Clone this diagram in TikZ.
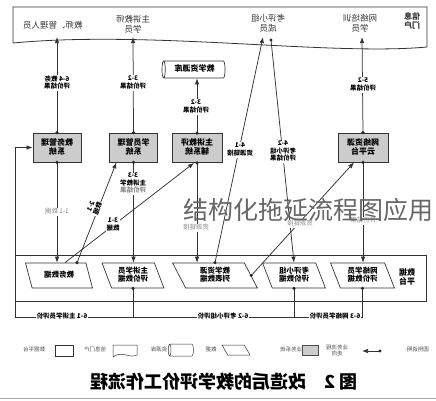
\documentclass[tikz,border=0pt]{standalone}
\usepackage{fontspec}
\setmainfont{Noto Sans CJK SC}
\usepackage{graphicx}
\usetikzlibrary{arrows.meta,shapes.geometric,calc}
\newcommand\mirtext[1]{\reflectbox{\renewcommand\arraystretch{0.85}\begin{tabular}{@{}c@{}}#1\end{tabular}}}
\begin{document}
\begin{tikzpicture}[x=1pt,y=-1pt,
  ln/.style={draw=black!80,line width=0.75pt},
  flow/.style={ln,-{Latex[length=6pt,width=4.5pt]}},
  sysbox/.style={draw=black!80,line width=0.8pt,fill=black!20,minimum width=48pt,minimum height=29pt,inner sep=0pt,font=\fontsize{8}{9.5}\selectfont\bfseries},
  para/.style={draw=black!80,line width=0.7pt,trapezium,trapezium left angle=110,trapezium right angle=70,trapezium stretches=true,minimum height=25pt,inner sep=1pt,font=\fontsize{7.5}{9}\selectfont\bfseries},
  lbl/.style={fill=white,inner sep=0.6pt,font=\fontsize{6.5}{7.5}\selectfont\bfseries},
  glbl/.style={fill=white,inner sep=0.6pt,text=black!45,font=\fontsize{6.5}{7.5}\selectfont},
  ptxt/.style={font=\fontsize{8.5}{10}\selectfont,text=black!80},
  lgd/.style={font=\fontsize{5.5}{6.5}\selectfont,text=black!70},
  dotc/.style={fill=black!85},
]
\useasboundingbox (0,0) rectangle (436,400);
% portal band
\draw[ln,line width=0.8pt] (13,43) -- (13,7) -- (427,7) -- (427,47) .. controls (330,56) and (150,30) .. (13,43);
\node[ptxt] (u1) at (53,26) {\mirtext{教师、管理人员}};
\node[ptxt] (u2) at (133,25) {\mirtext{主讲教师\\学员}};
\node[ptxt] (u4) at (268,24) {\mirtext{考评小组\\成员}};
\node[ptxt] (u5) at (360,24) {\mirtext{网络培训\\学员}};
\node[ptxt,font=\fontsize{8}{9.5}\selectfont\bfseries] (u6) at (412,22) {\mirtext{信息\\门户}};
\coordinate (t1) at (57,37);
\coordinate (t2) at (133,37);
\coordinate (t4a) at (263,37);
\coordinate (t4b) at (271,40);
\coordinate (t5) at (362,37);
% systems
\node[sysbox] (b1) at (57,147.5) {\mirtext{教务管理\\系统}};
\node[sysbox] (b2) at (133.5,147.5) {\mirtext{学员管理\\系统}};
\node[sysbox,minimum width=50pt] (b3) at (197,148) {\mirtext{主讲教评\\辅系统}};
\node[sysbox,minimum width=50pt] (b5) at (363,147.5) {\mirtext{网络资源\\云平台}};
\node[cylinder,shape border rotate=180,draw=black!80,line width=0.7pt,minimum width=17pt,minimum height=63pt,aspect=0.35,inner sep=0pt,font=\fontsize{8}{9}\selectfont\bfseries] (cyl) at (194.5,69.5) {\mirtext{教学资源库}};
% data platform
\draw[ln] (15,255) rectangle (426,301);
\node[font=\fontsize{8}{9.5}\selectfont\bfseries] (dp) at (407,278) {\mirtext{数据\\平台}};
\node[para,minimum width=67pt] (p1) at (59,275.5) {\mirtext{教务数据}};
\node[para,minimum width=62pt] (p2) at (133,275.5) {\mirtext{主讲学员\\评价数据}};
\node[para,minimum width=85pt] (p3) at (215,275.5) {\mirtext{教学资源\\列表数据}};
\node[para,minimum width=63pt] (p4) at (294,275.5) {\mirtext{考评小组\\评价数据}};
\node[para,minimum width=64pt] (p5) at (362.5,275.5) {\mirtext{网络学员\\评价数据}};
\coordinate (s1) at ($(p1.north)+(6,0)$);
\coordinate (s2) at ($(p1.north)+(18,0)$);
% connectors
\draw[flow] (b1.north) -- (t1);
\draw[flow] (b2.north) -- (t2);
\draw[flow] (b3.north) -- (b3.north |- cyl.south);
\draw[flow] (b5.north) -- (t5);
\draw[flow] (b1.south) -- (b1.south |- p1.north);
\draw[flow] (b2.south) -- (b2.south |- p2.north);
\draw[flow] (b3.south) -- (b3.south |- p3.north);
\draw[flow] (b5.south) -- (b5.south |- p5.north);
\draw[flow] (s1) -- ($(b3.south)+(-3,0)$);
\draw[flow] (s2) -- ($(b2.south west)!0.15!(b2.south east)$);
\draw[flow] (p3.north) -- (t4a);
\draw[flow] (t4b) -- (p4.north);
\draw[flow] (p3.right side) -- ($(b5.south)+(-9,0)$);
\coordinate (fbl) at (15,317);
\draw[flow] (p5.south) |- (fbl) -- (fbl |- b1.west) -- (b1.west);
\draw[ln] (p4.south) -- (p4.south |- fbl);
\draw[ln] (p2.south) -- (p2.south |- fbl);
% labels
\node[lbl] (l64) at (57,83) {\mirtext{6-4 教务\\评价结果}};
\node[lbl] (l32a) at (133,83) {\mirtext{3-2\\评价结果}};
\node[lbl] (l32b) at (196,107) {\mirtext{3-2\\评价结果}};
\node[lbl] (l52) at (363,85) {\mirtext{5-2\\评价结果}};
\node[lbl] (l33) at (133,184) {\mirtext{3-3\\主讲教学\\{\color{black!45}评价结果}}};
\node[glbl] (l11) at (57,212) {\mirtext{1-1 数据}};
\node[lbl] (l31) at (113,225) {\mirtext{3-1\\数据}};
\node[lbl,rotate=68] (l21) at (95,208) {\mirtext{2-1\\数据}};
\node[lbl] (l41) at (240,150) {\mirtext{4-1\\资源链接}};
\node[lbl] (l42) at (283,152) {\mirtext{4-2\\考评小组\\评价结果}};
\node[glbl] (l51) at (300,224) {\mirtext{资源链接}};
\node[glbl] (l34) at (196,228) {\mirtext{资源链接}};
\node[glbl] (l53) at (363,221) {\mirtext{评价结果}};
\node[lbl] (l61) at (62,317) {\mirtext{6-1 主讲学员评价}};
\node[lbl] (l62) at (223,317) {\mirtext{6-2 考评小组评价}};
\node[lbl] (l63) at (335,317) {\mirtext{6-3 网络学员评价}};
% dots
\foreach \a in {b1.north,b1.south,b2.north,b2.south,b3.north,b3.south,b5.north,b5.south,p2.south,p4.south,p5.south,p3.north,p3.right side,t4b,s2}
  \fill[dotc] (\a) circle (1.7pt);
% legend
\node[lgd] (lg0) at (417,350) {\mirtext{图例说明:}};
\coordinate (lga) at (380,351);
\coordinate (lgb) at (362,351);
\draw[flow] (lga) -- (lgb);
\fill[dotc] (lga) circle (1.7pt);
\node[lgd] (lg1) at (337,351) {\mirtext{业务流程\\走向}};
\node[draw=black!70,fill=black!20,minimum width=16pt,minimum height=10pt,inner sep=0pt] (lgbox) at (310,350) {};
\node[lgd] (lg2) at (291,350) {\mirtext{业务系统}};
\node[para,minimum width=28pt,minimum height=10pt,line width=0.5pt] (lgpara) at (236,350) {\phantom{x}};
\node[lgd] (lg3) at (211,350) {\mirtext{数据}};
\node[cylinder,shape border rotate=180,draw=black!80,line width=0.5pt,minimum width=12pt,minimum height=25pt,aspect=0.35,inner sep=1pt] (lgcyl) at (182,350) {\phantom{x}};
\node[lgd] (lg4) at (159,350) {\mirtext{资源库}};
\draw[ln,line width=0.5pt] (113,357) -- (113,345) -- (137,345) -- (137,355) .. controls (130,359) and (122,350) .. (113,357);
\node[lgd] (lg5) at (95,350) {\mirtext{信息门户}};
\draw[ln,line width=0.5pt] (55,345) rectangle (73,356);
\node[lgd] (lg6) at (34,350) {\mirtext{数据平台}};
% title
\node[font=\fontsize{18}{18}\selectfont\bfseries] (title) at (224,383) {\mirtext{图 2\quad 改造后的教学评价工作流程}};
\draw[black!35,line width=1pt] (0,398.5) -- (436,398.5);
% watermark
\node[font=\fontsize{25}{25}\selectfont,text=black!60] (wm) at (308,210) {结构化拖延流程图应用};
\end{tikzpicture}
\end{document}
